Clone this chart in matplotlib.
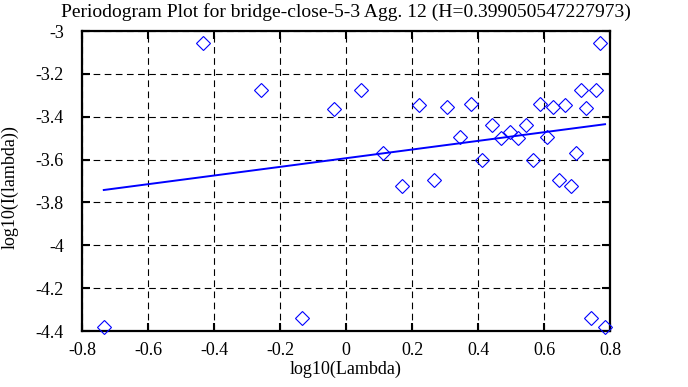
import matplotlib
matplotlib.use("Agg")
import matplotlib.pyplot as plt

plt.rcParams['font.family'] = ['Liberation Serif', 'DejaVu Serif']
plt.rcParams['axes.unicode_minus'] = False

# log10(lambda) / log10(I(lambda))
log_lambda = [-0.734, -0.433, -0.257, -0.132, -0.035, 0.044, 0.111, 0.169,
              0.220, 0.266, 0.307, 0.345, 0.380, 0.412, 0.442, 0.470,
              0.496, 0.521, 0.545, 0.567, 0.588, 0.608, 0.628, 0.646,
              0.664, 0.681, 0.697, 0.713, 0.728, 0.743, 0.757, 0.771, 0.785]
log_I = [-4.380, -3.055, -3.274, -4.341, -3.363, -3.275, -3.568, -3.722,
         -3.345, -3.694, -3.356, -3.493, -3.341, -3.600, -3.440, -3.498,
         -3.471, -3.499, -3.440, -3.600, -3.341, -3.493, -3.355, -3.694,
         -3.344, -3.722, -3.568, -3.275, -3.361, -4.339, -3.275, -3.055, -4.380]

# fitted line end points
fit_x = [-0.734, 0.785]
fit_y = [-3.742, -3.435]

xticks = [-0.8, -0.6, -0.4, -0.2, 0, 0.2, 0.4, 0.6, 0.8]
xlabels = ['-0.8', '-0.6', '-0.4', '-0.2', '0', '0.2', '0.4', '0.6', '0.8']
yticks = [-3, -3.2, -3.4, -3.6, -3.8, -4, -4.2, -4.4]
ylabels = ['-3', '-3.2', '-3.4', '-3.6', '-3.8', '-4', '-4.2', '-4.4']

fig = plt.figure(figsize=(6.88, 3.87), dpi=100)
ax = fig.add_axes([82 / 688, 1 - 331 / 387, 528 / 688, 300 / 387])

ax.plot(log_lambda, log_I, linestyle='none', marker='D', markersize=6.8,
        markerfacecolor='none', markeredgecolor='#0000ff', markeredgewidth=0.8,
        clip_on=False, zorder=3)
ax.plot(fit_x, fit_y, color='#0000ff', linewidth=1.4, zorder=3)

ax.set_xlim(-0.8, 0.8)
ax.set_ylim(-4.4, -3)
ax.set_xticks(xticks)
ax.set_xticklabels(xlabels)
ax.set_yticks(yticks)
ax.set_yticklabels(ylabels)
ax.tick_params(direction='in', length=6, width=1.5, labelsize=13,
               top=True, right=True)
ax.tick_params(axis='y', pad=13)
ax.tick_params(axis='x', pad=8)
for s in ax.spines.values():
    s.set_linewidth(1.6)

ax.grid(True, color='black', linestyle=(0, (6, 4)), linewidth=0.8)

ax.set_title('Periodogram Plot for bridge-close-5-3 Agg. 12 (H=0.399050547227973)',
             fontsize=14, pad=10)
ax.set_xlabel('log10(Lambda)', fontsize=13, va='center')
ax.xaxis.set_label_coords(0.5, (331 - 369) / 300)
ax.set_ylabel('log10(I(lambda))', fontsize=13, va='center')
ax.yaxis.set_label_coords((10 - 82) / 528, 0.48)

fig.savefig('out.png', dpi=100)
